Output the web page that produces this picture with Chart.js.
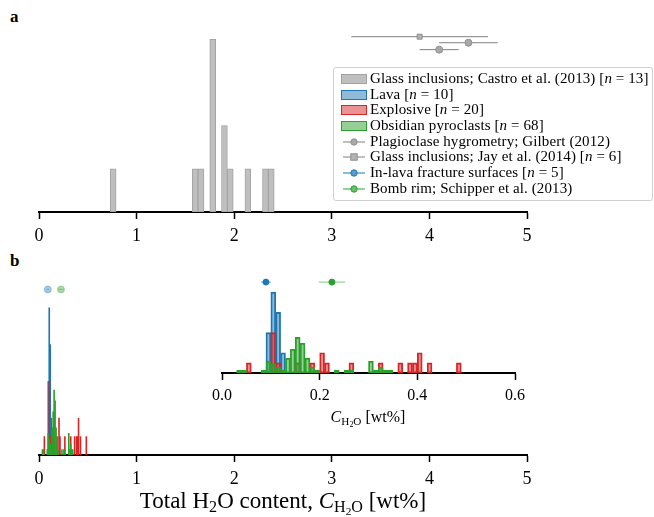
<!DOCTYPE html>
<html>
<head>
<meta charset="utf-8">
<script src="https://cdn.jsdelivr.net/npm/chart.js@4.4.0/dist/chart.umd.min.js"></script>
<style>
body { margin: 0; background: #fff; width: 654px; height: 517px; position: relative; overflow: hidden; font-family: "Liberation Serif", serif; color: #000; }
canvas { position: absolute; }
.panel { position: absolute; font-weight: bold; font-size: 17px; }
.label { position: absolute; white-space: nowrap; transform: translate(-50%, -50%); }
sub { font-size: 70%; vertical-align: -0.25em; line-height: 0; }
#legend { position: absolute; left: 333px; top: 67px; width: 320px; height: 134px; border: 1px solid #d0d0d0; border-radius: 3px; background: rgba(255,255,255,0.85); padding-top: 3px; box-sizing: border-box; }
.row { height: 15.7px; line-height: 15.7px; font-size: 15px; letter-spacing: 0.1px; white-space: nowrap; display: flex; align-items: center; }
.patch { display: inline-block; width: 24px; height: 8px; border: 1px solid; margin: 0 3px 0 7px; }
.sym { display: inline-block; width: 26px; height: 10px; margin: 0 3px 0 7px; }
</style>
</head>
<body>
<div class="panel" style="left:10px;top:7px">a</div>
<div class="panel" style="left:10px;top:251px">b</div>

<canvas id="chartA" style="left:0;top:0" width="654" height="250"></canvas>
<canvas id="chartB" style="left:0;top:250px" width="654" height="243"></canvas>
<canvas id="chartInset" style="left:200px;top:250px" width="340" height="161"></canvas>

<div id="legend">
  <div class="row"><span class="patch" style="background:#bfbfbf;border-color:#a3a3a3"></span>Glass inclusions; Castro et al. (2013) [<i>n</i>&nbsp;=&nbsp;13]</div>
  <div class="row"><span class="patch" style="background:rgba(31,119,180,0.5);border-color:#1f77b4"></span>Lava [<i>n</i>&nbsp;=&nbsp;10]</div>
  <div class="row"><span class="patch" style="background:rgba(214,39,40,0.5);border-color:#d62728"></span>Explosive [<i>n</i>&nbsp;=&nbsp;20]</div>
  <div class="row"><span class="patch" style="background:rgba(44,160,44,0.5);border-color:#2ca02c"></span>Obsidian pyroclasts [<i>n</i>&nbsp;=&nbsp;68]</div>
  <div class="row"><svg class="sym"><line x1="2" y1="5" x2="24" y2="5" stroke="#808080" stroke-width="1"/><circle cx="13" cy="5" r="3.2" fill="#a8a8a8" stroke="#909090"/></svg>Plagioclase hygrometry; Gilbert (2012)</div>
  <div class="row"><svg class="sym"><line x1="2" y1="5" x2="24" y2="5" stroke="#808080" stroke-width="1"/><rect x="9.8" y="1.8" width="6.4" height="6.4" fill="#b4b4b4" stroke="#8c8c8c"/></svg>Glass inclusions; Jay et al. (2014) [<i>n</i>&nbsp;=&nbsp;6]</div>
  <div class="row"><svg class="sym"><line x1="2" y1="5" x2="24" y2="5" stroke="#1f77b4" stroke-width="1"/><circle cx="13" cy="5" r="3.2" fill="#5a9bd0" stroke="#1f77b4"/></svg>In-lava fracture surfaces [<i>n</i>&nbsp;=&nbsp;5]</div>
  <div class="row"><svg class="sym"><line x1="2" y1="5" x2="24" y2="5" stroke="#2ca02c" stroke-width="1"/><circle cx="13" cy="5" r="3.2" fill="#68c068" stroke="#2ca02c"/></svg>Bomb rim; Schipper et al. (2013)</div>
</div>

<div class="label" style="left:368px;top:417px;font-size:16px"><i>C</i><sub>H<sub>2</sub>O</sub> [wt%]</div>
<div class="label" style="left:283px;top:501px;font-size:23px">Total H<sub>2</sub>O content, <i>C</i><sub>H<sub>2</sub>O</sub> [wt%]</div>

<script>
// panel a: glass inclusions (Castro et al. 2013), bins of 0.06 wt%
const castroBinWidth = 0.06;
const castroEdges = [0.73, 1.57, 1.63, 1.75, 1.87, 1.93, 2.11, 2.29, 2.35];
const castroCounts = [1, 1, 1, 4, 2, 1, 1, 1, 1];

// panel b: sample histograms, bins of 0.01 wt%
const sampleBinWidth = 0.01;
const lavaEdges = [0.09, 0.10, 0.11, 0.12];
const lavaCounts = [2, 4, 3, 1];
const lavaN = 10;
const explosiveEdges = [0.05, 0.10, 0.11, 0.15, 0.18, 0.20, 0.21, 0.26, 0.32, 0.36, 0.38, 0.39, 0.40, 0.42, 0.48];
const explosiveCounts = [1, 4, 1, 1, 1, 2, 1, 1, 1, 1, 1, 1, 2, 1, 1];
const explosiveN = 20;
const pyroEdges = [0.03, 0.04, 0.08, 0.09, 0.10, 0.11, 0.12, 0.13, 0.14, 0.15, 0.16, 0.17, 0.18, 0.19, 0.23, 0.25, 0.26, 0.30, 0.31, 0.32, 0.33, 0.34];
const pyroCounts = [1, 1, 1, 4, 3, 2, 1, 5, 8, 12, 10, 5, 2, 1, 1, 1, 1, 4, 1, 2, 1, 1];
const pyroN = 68;

// point estimates with error bars
const gilbertValues = [4.4, 4.1];
const gilbertErrors = [0.3, 0.2];
const gilbertRows = [3.92, 3.76];
const jayValues = [3.9];
const jayErrors = [0.7];
const jayRows = [4.06];
const fractureValues = [0.09];
const fractureErrors = [0.01];
const bombValues = [0.225];
const bombErrors = [0.027];
const sampleRows = [0.45];

// tick labels
const mainTicks = [0, 1, 2, 3, 4, 5];
const insetTicks = [0, 0.2, 0.4, 0.6];

function histPoints(edges, counts, width, n) {
    return edges.map((e, i) => ({ x: Math.round((e + width / 2) * 10000) / 10000, y: counts[i] / n }));
}

function histSet(points, fill, edge, borderWidth, order) {
    return {
        type: 'bar', data: points, backgroundColor: fill, borderColor: edge,
        borderWidth: borderWidth, borderSkipped: false, grouped: false,
        barPercentage: 1, categoryPercentage: 1, order: order
    };
}

function errorSets(values, errors, rows, color) {
    return values.map((v, i) => ({
        type: 'line',
        data: [{ x: v - errors[i], y: rows[i] }, { x: v + errors[i], y: rows[i] }],
        borderColor: color, borderWidth: 1, pointRadius: 0, fill: false, order: -1
    }));
}

function markerSet(values, rows, style, radius, fill, edge) {
    return {
        type: 'scatter',
        data: values.map((v, i) => ({ x: v, y: rows[i] })),
        pointStyle: style, pointRadius: radius, backgroundColor: fill,
        borderColor: edge, borderWidth: 1, order: -2
    };
}

function chartOptions(xmin, xmax, ticks, digits, ymax, padding, fontSize) {
    return {
        responsive: false,
        animation: false,
        events: [],
        layout: { padding: padding },
        plugins: { legend: { display: false }, tooltip: { enabled: false } },
        scales: {
            x: {
                type: 'linear', min: xmin, max: xmax, offset: false,
                afterBuildTicks: s => { s.ticks = ticks.map(v => ({ value: v })); },
                afterFit: s => { s.height = 38; },
                grid: { display: true, drawOnChartArea: false, drawTicks: true, tickLength: 7, tickWidth: 1.5, tickColor: '#000', offset: false },
                border: { display: true, color: '#000', width: 2 },
                ticks: {
                    color: '#000', padding: 6, maxRotation: 0, autoSkip: false,
                    font: { family: 'Liberation Serif', size: fontSize },
                    callback: v => Number(v).toFixed(digits)
                }
            },
            y: { display: false, min: 0, max: ymax }
        }
    };
}

// panel a
new Chart(document.getElementById('chartA'), {
    type: 'bar',
    data: {
        datasets: [
            histSet(histPoints(castroEdges, castroCounts, castroBinWidth, 1), '#bfbfbf', '#a3a3a3', 1, 0),
            ...errorSets(jayValues, jayErrors, jayRows, '#808080'),
            ...errorSets(gilbertValues, gilbertErrors, gilbertRows, '#808080'),
            markerSet(jayValues, jayRows, 'rect', 3.5, '#b4b4b4', '#8c8c8c'),
            markerSet(gilbertValues, gilbertRows, 'circle', 3.5, '#a8a8a8', '#909090')
        ]
    },
    options: chartOptions(0, 5, mainTicks, 0, 4.4, { left: 39, right: 127, top: 22, bottom: 0 }, 18)
});

// panel b, full range
new Chart(document.getElementById('chartB'), {
    type: 'bar',
    data: {
        datasets: [
            histSet(histPoints(lavaEdges, lavaCounts, sampleBinWidth, lavaN), '#1f77b4', '#1f77b4', 0, 2),
            histSet(histPoints(explosiveEdges, explosiveCounts, sampleBinWidth, explosiveN), '#d62728', '#d62728', 0, 1),
            histSet(histPoints(pyroEdges, pyroCounts, sampleBinWidth, pyroN), '#2ca02c', '#2ca02c', 0, 0),
            ...errorSets(fractureValues, fractureErrors, sampleRows, 'rgba(31,119,180,0.4)'),
            ...errorSets(bombValues, bombErrors, sampleRows, 'rgba(44,160,44,0.4)'),
            markerSet(fractureValues, sampleRows, 'circle', 3.5, 'rgba(31,119,180,0.4)', 'rgba(31,119,180,0.3)'),
            markerSet(bombValues, sampleRows, 'circle', 3.5, 'rgba(44,160,44,0.4)', 'rgba(44,160,44,0.3)')
        ]
    },
    options: chartOptions(0, 5, mainTicks, 0, 0.5, { left: 39, right: 127, top: 21, bottom: 0 }, 18)
});

// inset, zoomed to 0-0.6 wt%
new Chart(document.getElementById('chartInset'), {
    type: 'bar',
    data: {
        datasets: [
            histSet(histPoints(lavaEdges, lavaCounts, sampleBinWidth, lavaN), 'rgba(31,119,180,0.5)', '#1f77b4', 1.2, 2),
            histSet(histPoints(explosiveEdges, explosiveCounts, sampleBinWidth, explosiveN), 'rgba(214,39,40,0.5)', '#d62728', 1.2, 1),
            histSet(histPoints(pyroEdges, pyroCounts, sampleBinWidth, pyroN), 'rgba(44,160,44,0.5)', '#2ca02c', 1.2, 0),
            ...errorSets(fractureValues, fractureErrors, sampleRows, 'rgba(31,119,180,0.7)'),
            ...errorSets(bombValues, bombErrors, sampleRows, 'rgba(44,160,44,0.6)'),
            markerSet(fractureValues, sampleRows, 'circle', 3, '#1f77b4', '#1f77b4'),
            markerSet(bombValues, sampleRows, 'circle', 3, '#2ca02c', '#2ca02c')
        ]
    },
    options: chartOptions(0, 0.6, insetTicks, 1, 0.5, { left: 22, right: 25, top: 22, bottom: 0 }, 16)
});
</script>
</body>
</html>
